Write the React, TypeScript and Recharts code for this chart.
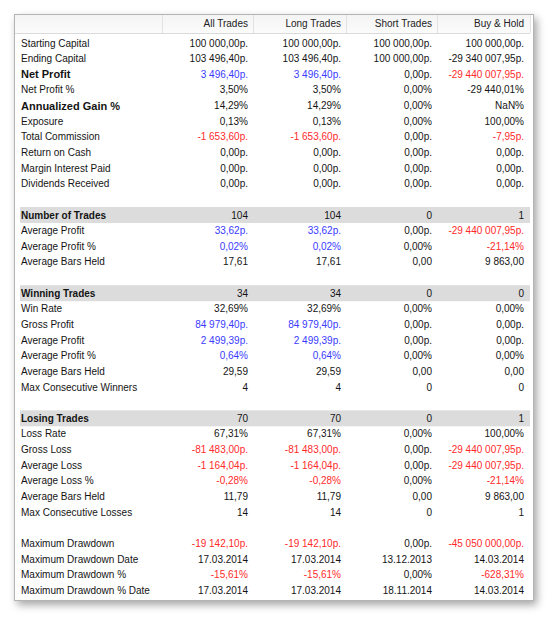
import React from 'react';
import { BarChart, Bar, XAxis, YAxis } from 'recharts';

// row captions, '' marks a blank spacer row
const rowLabels = [
  'Starting Capital', 'Ending Capital', 'Net Profit', 'Net Profit %', 'Annualized Gain %', 'Exposure',
  'Total Commission', 'Return on Cash', 'Margin Interest Paid', 'Dividends Received', '',
  'Number of Trades', 'Average Profit', 'Average Profit %', 'Average Bars Held', '',
  'Winning Trades', 'Win Rate', 'Gross Profit', 'Average Profit', 'Average Profit %', 'Average Bars Held', 'Max Consecutive Winners', '',
  'Losing Trades', 'Loss Rate', 'Gross Loss', 'Average Loss', 'Average Loss %', 'Average Bars Held', 'Max Consecutive Losses', '',
  'Maximum Drawdown', 'Maximum Drawdown Date', 'Maximum Drawdown %', 'Maximum Drawdown % Date',
];

const columns = ['All Trades', 'Long Trades', 'Short Trades', 'Buy & Hold'];

const allTrades = [
  '100 000,00p.', '103 496,40p.', '3 496,40p.', '3,50%', '14,29%', '0,13%', '-1 653,60p.', '0,00p.', '0,00p.', '0,00p.', '',
  '104', '33,62p.', '0,02%', '17,61', '',
  '34', '32,69%', '84 979,40p.', '2 499,39p.', '0,64%', '29,59', '4', '',
  '70', '67,31%', '-81 483,00p.', '-1 164,04p.', '-0,28%', '11,79', '14', '',
  '-19 142,10p.', '17.03.2014', '-15,61%', '17.03.2014',
];

const longTrades = [
  '100 000,00p.', '103 496,40p.', '3 496,40p.', '3,50%', '14,29%', '0,13%', '-1 653,60p.', '0,00p.', '0,00p.', '0,00p.', '',
  '104', '33,62p.', '0,02%', '17,61', '',
  '34', '32,69%', '84 979,40p.', '2 499,39p.', '0,64%', '29,59', '4', '',
  '70', '67,31%', '-81 483,00p.', '-1 164,04p.', '-0,28%', '11,79', '14', '',
  '-19 142,10p.', '17.03.2014', '-15,61%', '17.03.2014',
];

const shortTrades = [
  '100 000,00p.', '100 000,00p.', '0,00p.', '0,00%', '0,00%', '0,00%', '0,00p.', '0,00p.', '0,00p.', '0,00p.', '',
  '0', '0,00p.', '0,00%', '0,00', '',
  '0', '0,00%', '0,00p.', '0,00p.', '0,00%', '0,00', '0', '',
  '0', '0,00%', '0,00p.', '0,00p.', '0,00%', '0,00', '0', '',
  '0,00p.', '13.12.2013', '0,00%', '18.11.2014',
];

const buyHold = [
  '100 000,00p.', '-29 340 007,95p.', '-29 440 007,95p.', '-29 440,01%', 'NaN%', '100,00%', '-7,95p.', '0,00p.', '0,00p.', '0,00p.', '',
  '1', '-29 440 007,95p.', '-21,14%', '9 863,00', '',
  '0', '0,00%', '0,00p.', '0,00p.', '0,00%', '0,00', '0', '',
  '1', '100,00%', '-29 440 007,95p.', '-29 440 007,95p.', '-21,14%', '9 863,00', '1', '',
  '-45 050 000,00p.', '14.03.2014', '-628,31%', '14.03.2014',
];

// rows whose values are coloured by sign, rows in bold, rows with a grey band
const signedRows = [2, 6, 12, 13, 18, 19, 20, 26, 27, 28, 32, 34];
const boldRows = [2, 4];
const bandRows = [11, 16, 24];

const tableRows = rowLabels.map((label, i) => ({
  key: `r${i}`,
  label,
  span: 1,
  values: [allTrades[i], longTrades[i], shortTrades[i], buyHold[i]],
}));

const colRight = [248, 341, 432, 524];
const colSep = [162, 253, 346, 437];
const FONT = '"Liberation Sans", Arial, sans-serif';

const toneOf = (i: number, v: string) => {
  if (!signedRows.includes(i)) return '#141414';
  if (v.startsWith('-')) return '#ff2a2a';
  const n = parseFloat(v.replace(/\s/g, '').replace(',', '.'));
  return n !== 0 ? '#3a3aff' : '#141414';
};

const RowShape = (props: any) => {
  const { x, y, width, height, index } = props;
  const row = props.payload && props.payload.label !== undefined ? props.payload : tableRows[index];
  const i = rowLabels.indexOf(row.label) >= 0 ? tableRows.indexOf(row) : index;
  if (!row.label) return <g />;
  const cy = y + height / 2;
  const band = bandRows.includes(i);
  const bold = boldRows.includes(i);
  return (
    <g>
      {band && <rect x={x + 5} y={y} width={width - 5} height={height} fill="#dcdcdc" />}
      <text
        x={21}
        y={cy}
        dominantBaseline="central"
        fontSize={bold ? 11 : 10}
        fontWeight={bold || band ? 'bold' : 'normal'}
        fill="#141414"
      >
        {row.label}
      </text>
      {row.values.map((v: string, c: number) => (
        <text
          key={c}
          x={colRight[c]}
          y={cy}
          textAnchor="end"
          dominantBaseline="central"
          fontSize={10}
          fill={toneOf(i, v)}
        >
          {v}
        </text>
      ))}
    </g>
  );
};

const App: React.FC = () => {
  return (
    <div style={{ position: 'absolute', left: 0, top: 0, width: 550, height: 619, background: '#fff', fontFamily: FONT }}>
      {/* panel frame */}
      <div
        style={{
          position: 'absolute', left: 14, top: 14, width: 518, height: 585,
          border: '1px solid #b4b4b4', background: '#fff',
          boxShadow: '3px 4px 8px rgba(0,0,0,0.35)',
        }}
      />
      {/* header */}
      <div
        style={{
          position: 'absolute', left: 15, top: 15, width: 515, height: 18,
          background: 'linear-gradient(#f4f4f4, #fbfbfb)', borderBottom: '1px solid #dadada',
        }}
      />
      {colSep.map((sx) => (
        <div key={sx} style={{ position: 'absolute', left: sx, top: 15, width: 1, height: 18, background: '#e2e2e2' }} />
      ))}
      <div style={{ position: 'absolute', left: 530, top: 15, width: 1, height: 18, background: '#e2e2e2' }} />
      {columns.map((name, c) => (
        <div
          key={name}
          style={{
            position: 'absolute', left: colRight[c] - 90, top: 18, width: 90, textAlign: 'right',
            fontSize: 10, color: '#222', lineHeight: '12px',
          }}
        >
          {name}
        </div>
      ))}
      <div style={{ position: 'absolute', left: 0, top: 0 }}>
        <BarChart
          width={550}
          height={619}
          data={tableRows}
          layout="vertical"
          margin={{ top: 35, right: 20, bottom: 21, left: 15 }}
          barCategoryGap={0}
          style={{ fontFamily: FONT }}
        >
          <XAxis type="number" domain={[0, 1]} hide />
          <YAxis type="category" dataKey="key" hide />
          <Bar dataKey="span" isAnimationActive={false} shape={RowShape} />
        </BarChart>
      </div>
    </div>
  );
};

export default App;
